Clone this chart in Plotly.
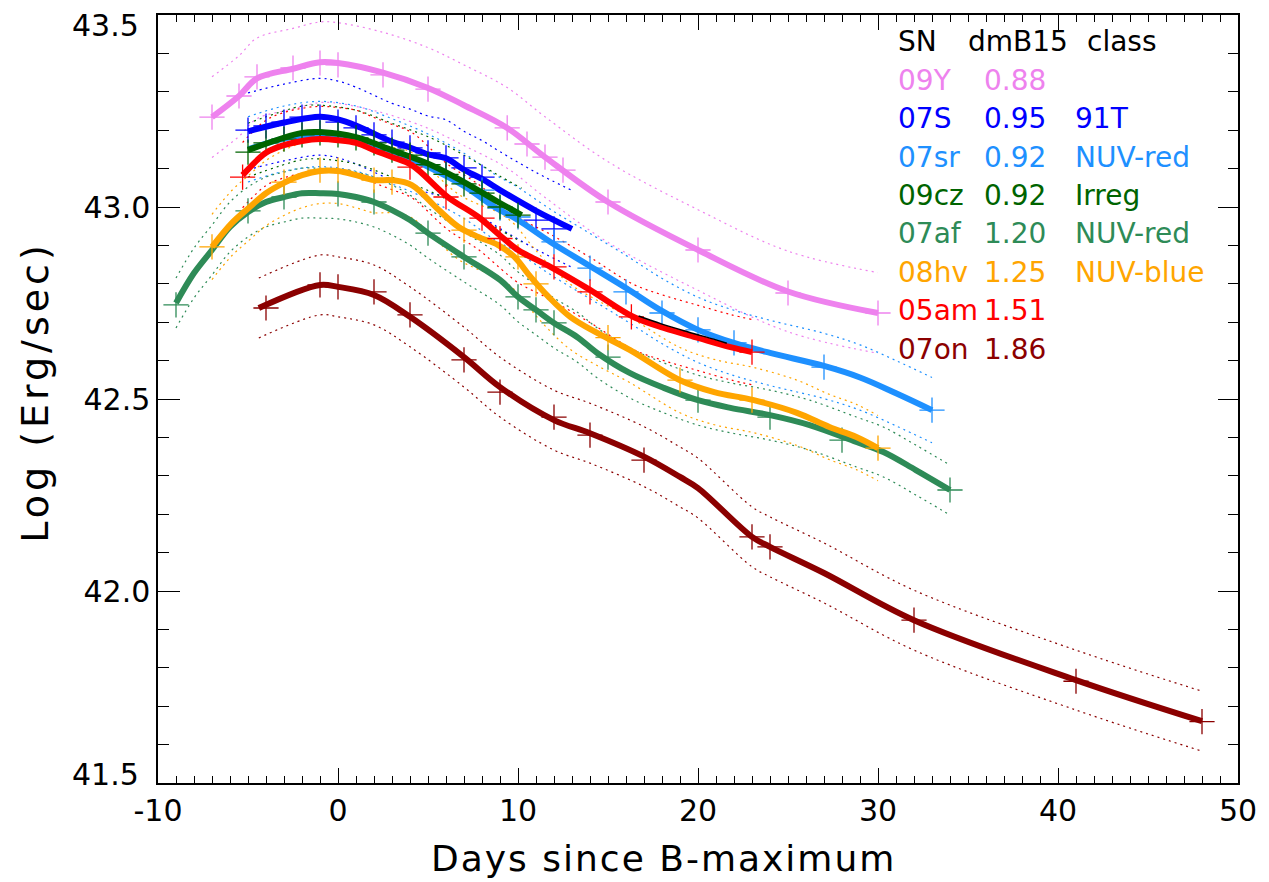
import plotly.graph_objects as go

# ---------------- data ----------------
sn_names = ["09Y", "07S", "07sr", "09cz", "07af", "08hv", "05am", "07on"]
dmb15 = ["0.88", "0.95", "0.92", "0.92", "1.20", "1.25", "1.51", "1.86"]
sn_class = ["", "91T", "NUV-red", "Irreg", "NUV-red", "NUV-blue", "", ""]
colors = ["#EE82EE", "#0000FF", "#1E90FF", "#006400", "#2E8B57", "#FFA500", "#FF0000", "#8B0000"]

x_tickvals = [-10, 0, 10, 20, 30, 40, 50]
x_ticktext = ["-10", "0", "10", "20", "30", "40", "50"]
y_tickvals = [42.0, 42.5, 43.0]
y_ticktext = ["42.0", "42.5", "43.0"]
y_edge_vals = [41.5, 43.5]
y_edge_text = ["41.5", "43.5"]

# observed points (crosses)
obs_days = {
    "09Y": [-7, -5.5, -4.5, -2.5, -1, 0, 2.5, 5, 9.4, 10.5, 11.5, 12.5, 15, 20, 25, 30],
    "07S": [-5, -4, -3, -2, -1, 0, 1, 2, 3, 4, 5, 6, 7, 8, 11, 12],
    "07sr": [8, 9, 10, 12, 14, 16, 18, 20, 22, 27, 33],
    "09cz": [-5, -4, -3, -2, -1, 0, 1, 2, 3, 4, 5, 6, 7, 8, 9, 10],
    "07af": [-9, -5, -3, 0, 2, 5, 7, 10, 11, 12, 15, 20, 24, 28, 34],
    "08hv": [-7, -3, -1, 0, 2, 3, 7, 10, 11, 15, 19, 23, 30],
    "05am": [-5.3, 4, 6, 8, 9, 12, 14, 16.3, 23],
    "07on": [-4, -1, 0, 2, 4, 7, 9, 12, 14, 17, 23, 24, 32, 41, 48],
}
obs_logL = {
    "09Y": [43.234, 43.289, 43.339, 43.362, 43.375, 43.37, 43.344, 43.307, 43.206, 43.164, 43.13, 43.096, 43.013, 42.888, 42.776, 42.724],
    "07S": [43.20, 43.211, 43.221, 43.234, 43.234, 43.221, 43.206, 43.188, 43.169, 43.154, 43.141, 43.128, 43.102, 43.078, 42.966, 42.943],
    "07sr": [43.044, 42.997, 42.974, 42.909, 42.841, 42.779, 42.724, 42.68, 42.646, 42.583, 42.471],
    "09cz": [43.143, 43.167, 43.177, 43.188, 43.193, 43.188, 43.18, 43.167, 43.148, 43.135, 43.11, 43.085, 43.06, 43.036, 43.0, 42.979],
    "07af": [42.745, 42.99, 43.026, 43.034, 43.013, 42.932, 42.87, 42.766, 42.732, 42.698, 42.609, 42.497, 42.453, 42.393, 42.263],
    "08hv": [42.896, 43.065, 43.096, 43.096, 43.07, 43.065, 42.94, 42.87, 42.80, 42.66, 42.549, 42.497, 42.372],
    "05am": [43.078, 43.104, 43.026, 42.971, 42.918, 42.844, 42.779, 42.714, 42.622],
    "07on": [42.737, 42.797, 42.792, 42.779, 42.719, 42.602, 42.518, 42.453, 42.406, 42.341, 42.141, 42.115, 41.924, 41.765, 41.66],
}

# smooth fitted light curves (thick lines)
fit_days = {
    "09Y": [-7, -5.5, -4.5, -2.5, -1, 0, 2.5, 5, 7, 9.4, 11.5, 15, 20, 25, 30],
    "07S": [-5, -3, -1, 0, 1, 3, 4, 5, 6, 7, 8, 9, 11, 13],
    "07sr": [-5, -3, -1, 1, 3, 5, 7, 8.7, 10, 11.8, 13.9, 16, 17.9, 20, 22, 24, 27, 29, 31, 33],
    "09cz": [-5, -2, -1, 1, 3, 5.2, 7, 8.9, 10.2],
    "07af": [-9, -8, -7, -6, -5, -4, -3, -2, -1, 0, 1, 2, 3, 4, 5, 7, 9, 10, 11, 12, 13.3, 14.4, 16.2, 18.1, 20, 21.8, 24, 26.2, 28.8, 30.3, 32.1, 34],
    "08hv": [-7, -5.9, -4.9, -4, -3, -2, -1, 0, 1, 2, 3, 4.1, 5.6, 6.7, 7.8, 8.9, 9.8, 10.7, 11.7, 12.9, 14.4, 16.2, 19, 20.9, 23.1, 25.5, 27.3, 28.8, 30],
    "05am": [-5.3, -4, -3, -2, -1, 0, 1, 2, 3, 4.1, 6.1, 7.8, 9.1, 10, 11.8, 14, 16.4, 18.1, 20, 21.8, 23],
    "07on": [-4.4, -1, 0, 2, 4, 7, 9, 12, 14, 17, 19, 20, 23, 24, 27, 32, 41, 48],
}
fit_logL = {
    "09Y": [43.234, 43.289, 43.335, 43.36, 43.377, 43.375, 43.35, 43.31, 43.265, 43.206, 43.13, 43.013, 42.888, 42.78, 42.724],
    "07S": [43.197, 43.22, 43.235, 43.228, 43.212, 43.17, 43.155, 43.137, 43.127, 43.097, 43.073, 43.044, 42.99, 42.943],
    "07sr": [43.15, 43.178, 43.19, 43.178, 43.145, 43.105, 43.055, 43.0, 42.966, 42.909, 42.849, 42.789, 42.732, 42.68, 42.646, 42.62, 42.586, 42.556, 42.515, 42.471],
    "09cz": [43.148, 43.193, 43.195, 43.182, 43.148, 43.109, 43.065, 43.013, 42.979],
    "07af": [42.75, 42.828, 42.888, 42.948, 42.987, 43.013, 43.026, 43.036, 43.036, 43.034, 43.026, 43.013, 42.992, 42.966, 42.932, 42.87, 42.81, 42.766, 42.732, 42.698, 42.661, 42.62, 42.568, 42.529, 42.497, 42.477, 42.458, 42.432, 42.388, 42.362, 42.315, 42.263],
    "08hv": [42.896, 42.958, 43.0, 43.036, 43.063, 43.083, 43.094, 43.094, 43.083, 43.07, 43.07, 43.057, 42.992, 42.948, 42.922, 42.901, 42.870, 42.818, 42.766, 42.714, 42.672, 42.628, 42.549, 42.518, 42.497, 42.464, 42.427, 42.401, 42.372],
    "05am": [43.083, 43.141, 43.161, 43.172, 43.177, 43.174, 43.167, 43.148, 43.13, 43.109, 43.026, 42.974, 42.922, 42.888, 42.844, 42.784, 42.714, 42.685, 42.659, 42.635, 42.622],
    "07on": [42.737, 42.797, 42.792, 42.771, 42.714, 42.609, 42.531, 42.445, 42.411, 42.35, 42.297, 42.268, 42.141, 42.115, 42.047, 41.924, 41.768, 41.661],
}
# half-width of the dotted uncertainty band
band_halfwidth = {"09Y": 0.105, "07S": 0.10, "07sr": 0.085, "09cz": 0.07,
                  "07af": 0.065, "08hv": 0.085, "05am": 0.085, "07on": 0.078}

# extra black fit segment near 05am
black_days = [16.7, 18, 19.5, 21, 21.6]
black_logL = [42.716, 42.695, 42.674, 42.654, 42.645]

legend_header = ["SN", "dmB15", "class"]
x_title = "Days since B-maximum"
y_title = "Log (Erg/sec)"

# ---------------- figure ----------------
FONT = "DejaVu Sans, Liberation Sans, Arial, sans-serif"
TICK_SIZE = 30
fig = go.Figure()

for name, col in zip(sn_names, colors):
    d = fit_days[name]
    f = fit_logL[name]
    h = band_halfwidth[name]
    for sgn in (1, -1):
        fig.add_trace(go.Scatter(
            x=d, y=[v + sgn * h for v in f], mode="lines",
            line=dict(color=col, width=1.2, dash="2px,4px", shape="spline", smoothing=1.0),
            hoverinfo="skip", showlegend=False))

for name, col in zip(sn_names, colors):
    fig.add_trace(go.Scatter(
        x=fit_days[name], y=fit_logL[name], mode="lines",
        line=dict(color=col, width=6, shape="spline", smoothing=1.0),
        showlegend=False))
    fig.add_trace(go.Scatter(
        x=obs_days[name], y=obs_logL[name], mode="markers",
        marker=dict(symbol="cross-thin", size=18, line=dict(color=col, width=1.3)),
        showlegend=False))
    if name == "05am":
        fig.add_trace(go.Scatter(
            x=black_days, y=black_logL, mode="lines",
            line=dict(color="black", width=1.5, shape="spline"),
            showlegend=False))

# invisible trace to carry the top/right tick axes
fig.add_trace(go.Scatter(x=[-10, 50], y=[41.5, 43.5], xaxis="x2", yaxis="y2",
                         mode="markers", marker=dict(opacity=0), hoverinfo="skip",
                         showlegend=False))

# legend table as text
LEG_SIZE = 28
row_y0 = 43.43
row_step = 0.1
col_x = [31.0, 34.9, 41.5]
for j, t in enumerate(legend_header):
    fig.add_annotation(x=col_x[j], y=row_y0, xref="x", yref="y", text=t,
                       showarrow=False, xanchor="left", yanchor="middle",
                       font=dict(family=FONT, size=LEG_SIZE, color="black"))
val_x = [31.0, 35.75, 40.85]
for i, (name, dm, cl, col) in enumerate(zip(sn_names, dmb15, sn_class, colors)):
    yy = row_y0 - row_step * (i + 1)
    for j, t in enumerate([name, dm, cl]):
        if not t:
            continue
        fig.add_annotation(x=val_x[j], y=yy, xref="x", yref="y", text=t,
                           showarrow=False, xanchor="left", yanchor="middle",
                           font=dict(family=FONT, size=LEG_SIZE, color=col))

# end labels of the y axis sit inside the frame height, as in the original
for v, t, shift in zip(y_edge_vals, y_edge_text, [9, -10]):
    fig.add_annotation(x=0, xref="paper", y=v, yref="y", text=t, showarrow=False,
                       xanchor="right", yanchor="middle", xshift=-17, yshift=shift,
                       font=dict(family=FONT, size=TICK_SIZE, color="black"))

# axis titles
fig.add_annotation(x=0.4677, xref="paper", y=-0.098, yref="paper",
                   text='<span style="letter-spacing:2px">' + x_title + '</span>',
                   showarrow=False, xanchor="center", yanchor="middle",
                   font=dict(family=FONT, size=36, color="black"))
fig.add_annotation(x=-0.1135, xref="paper", y=0.51, yref="paper", textangle=-90,
                   text='<span style="letter-spacing:4px">' + y_title + '</span>',
                   showarrow=False, xanchor="center", yanchor="middle",
                   font=dict(family=FONT, size=38, color="black"))

tickfont = dict(family=FONT, size=TICK_SIZE, color="black")
fig.update_layout(
    width=1269, height=882, plot_bgcolor="white", paper_bgcolor="white",
    margin=dict(l=158, r=27, t=15, b=99), showlegend=False,
    xaxis=dict(range=[-10, 50], tickvals=x_tickvals, ticktext=x_ticktext,
               ticks="inside", ticklen=15, tickwidth=1.3, tickcolor="black",
               minor=dict(dtick=1, tick0=0, ticklen=7, ticks="inside", tickcolor="black", tickwidth=1.1, showgrid=False),
               showline=True, linecolor="black", linewidth=1.5, mirror=True,
               showgrid=False, zeroline=False, tickfont=tickfont),
    yaxis=dict(range=[41.5, 43.5], tickvals=y_tickvals, ticktext=y_ticktext,
               ticks="inside", ticklen=22, tickwidth=1.3, tickcolor="black",
               minor=dict(dtick=0.1, tick0=41.5, ticklen=11, ticks="inside", tickcolor="black", tickwidth=1.1, showgrid=False),
               showline=True, linecolor="black", linewidth=1.5, mirror=True,
               showgrid=False, zeroline=False, tickfont=tickfont),
    xaxis2=dict(range=[-10, 50], overlaying="x", side="top", tickvals=x_tickvals,
                showticklabels=False, ticks="inside", ticklen=15, tickwidth=1.3, tickcolor="black",
                minor=dict(dtick=1, tick0=0, ticklen=7, ticks="inside", tickcolor="black", tickwidth=1.1, showgrid=False),
                showgrid=False, zeroline=False, showline=False),
    yaxis2=dict(range=[41.5, 43.5], overlaying="y", side="right", tickvals=[41.5, 42.0, 42.5, 43.0, 43.5],
                showticklabels=False, ticks="inside", ticklen=20, tickwidth=1.3, tickcolor="black",
                minor=dict(dtick=0.1, tick0=41.5, ticklen=10, ticks="inside", tickcolor="black", tickwidth=1.1, showgrid=False),
                showgrid=False, zeroline=False, showline=False),
)
fig.write_html("out.html")
